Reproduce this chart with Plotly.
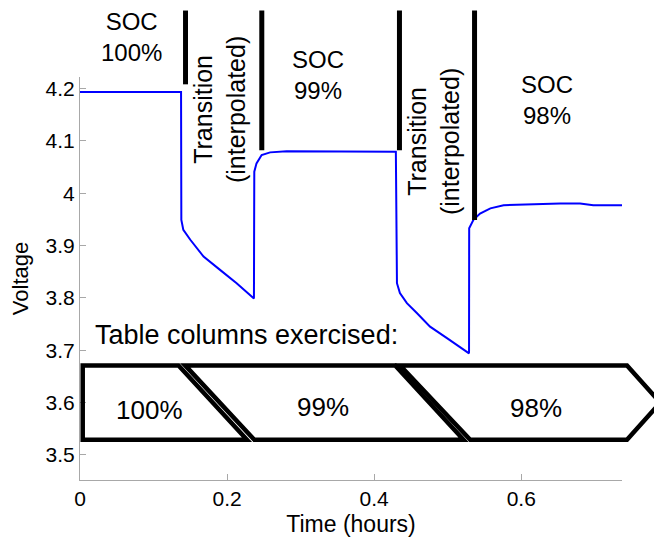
import plotly.graph_objects as go

# measured curve: time (hours) vs voltage
time_h = [0, 0.1374, 0.1378, 0.1405, 0.150, 0.168, 0.190, 0.213, 0.2365,
          0.2370, 0.240, 0.247, 0.2585, 0.281, 0.4295,
          0.4300, 0.431, 0.435, 0.4445, 0.458, 0.476, 0.499, 0.529,
          0.5292, 0.535, 0.544, 0.558, 0.576, 0.608, 0.653, 0.680, 0.698, 0.737]
voltage = [4.1935, 4.1935, 3.949, 3.930, 3.911, 3.879, 3.854, 3.828, 3.799,
           4.041, 4.057, 4.073, 4.078, 4.080, 4.079,
           3.834, 3.828, 3.809, 3.790, 3.771, 3.745, 3.723, 3.694,
           3.933, 3.949, 3.961, 3.971, 3.977, 3.979, 3.9805, 3.9805, 3.977, 3.977]

x_ticks = [0, 0.2, 0.4, 0.6]
x_ticktext = ["0", "0.2", "0.4", "0.6"]
y_ticks = [3.5, 3.6, 3.7, 3.8, 3.9, 4.0, 4.1, 4.2]
y_ticktext = ["3.5", "3.6", "3.7", "3.8", "3.9", "4", "4.1", "4.2"]

X_RANGE = [0, 0.737]
Y_RANGE = [3.452, 4.222]

# transition boundary markers (x, bottom voltage, top voltage)
marker_x = [0.1435, 0.2472, 0.4344, 0.5365]
marker_bottom = [4.208, 4.082, 4.082, 3.949]
marker_top = 4.349

# table column boxes (voltage extents and outline x positions)
box_top, box_mid, box_bottom = 3.671, 3.600, 3.529
box_outlines = [
    [(0.0037, box_top), (0.134, box_top), (0.227, box_bottom), (0.0037, box_bottom)],
    [(0.143, box_top), (0.4286, box_top), (0.5215, box_bottom), (0.237, box_bottom)],
    [(0.435, box_top), (0.7438, box_top), (0.789, box_mid), (0.7438, box_bottom), (0.5306, box_bottom)],
]
box_labels = ["100%", "99%", "98%"]
box_label_x = [0.095, 0.331, 0.620]
box_label_y = [3.586, 3.592, 3.590]

soc_labels = ["SOC<br>100%", "SOC<br>99%", "SOC<br>98%"]
soc_x = [0.0707, 0.324, 0.635]
soc_y = [4.298, 4.225, 4.178]

trans_x = [0.1905, 0.4816]
trans_y = [4.159, 4.098]


def xp(v):
    return (v - X_RANGE[0]) / (X_RANGE[1] - X_RANGE[0])


def yp(v):
    return (v - Y_RANGE[0]) / (Y_RANGE[1] - Y_RANGE[0])


FONT = "Liberation Sans, Arial, sans-serif"

fig = go.Figure()
fig.add_trace(go.Scatter(x=time_h, y=voltage, mode="lines",
                         line=dict(color="rgb(0,0,255)", width=2),
                         showlegend=False))

shapes = []
for mx, mb in zip(marker_x, marker_bottom):
    shapes.append(dict(type="line", xref="x", yref="paper",
                       x0=mx, x1=mx, y0=yp(mb), y1=yp(marker_top),
                       line=dict(color="black", width=5)))
for pts in box_outlines:
    path = "M " + " L ".join(f"{xp(x):.5f},{yp(y):.5f}" for x, y in pts) + " Z"
    shapes.append(dict(type="path", xref="paper", yref="paper", path=path,
                       line=dict(color="black", width=4.5)))


def label(text, x, y, size, angle=0):
    return dict(text=text, x=x, y=yp(y), xref="x", yref="paper",
                xanchor="center", yanchor="middle", showarrow=False,
                textangle=angle, font=dict(size=size))


annotations = []
for t, x, y in zip(soc_labels, soc_x, soc_y):
    annotations.append(label(t, x, y, 24))
for x, y in zip(trans_x, trans_y):
    annotations.append(label("Transition<br>(interpolated)", x, y, 25, -90))
annotations.append(label("Table columns exercised:", 0.227, 3.729, 27))
for t, x, y in zip(box_labels, box_label_x, box_label_y):
    annotations.append(label(t, x, y, 26))

axis_style = dict(showline=True, linecolor="#a8a8a8", linewidth=1,
                  ticks="inside", ticklen=6, tickcolor="#a8a8a8",
                  showgrid=False, zeroline=False, automargin=False,
                  tickfont=dict(size=21, color="black"))

# page body has an 8px margin, so the figure is 8px smaller and margins shifted
fig.update_layout(
    width=654, height=529,
    margin=dict(l=72, r=40, t=69, b=57),
    paper_bgcolor="white", plot_bgcolor="white",
    font=dict(family=FONT, color="black"),
    shapes=shapes,
    annotations=annotations,
    xaxis=dict(range=X_RANGE, tickvals=x_ticks, ticktext=x_ticktext,
               title=dict(text="Time (hours)", font=dict(size=23)),
               **axis_style),
    yaxis=dict(range=Y_RANGE, tickvals=y_ticks, ticktext=y_ticktext,
               title=dict(text="Voltage", font=dict(size=22)),
               **axis_style),
)

fig.write_html("out.html")
